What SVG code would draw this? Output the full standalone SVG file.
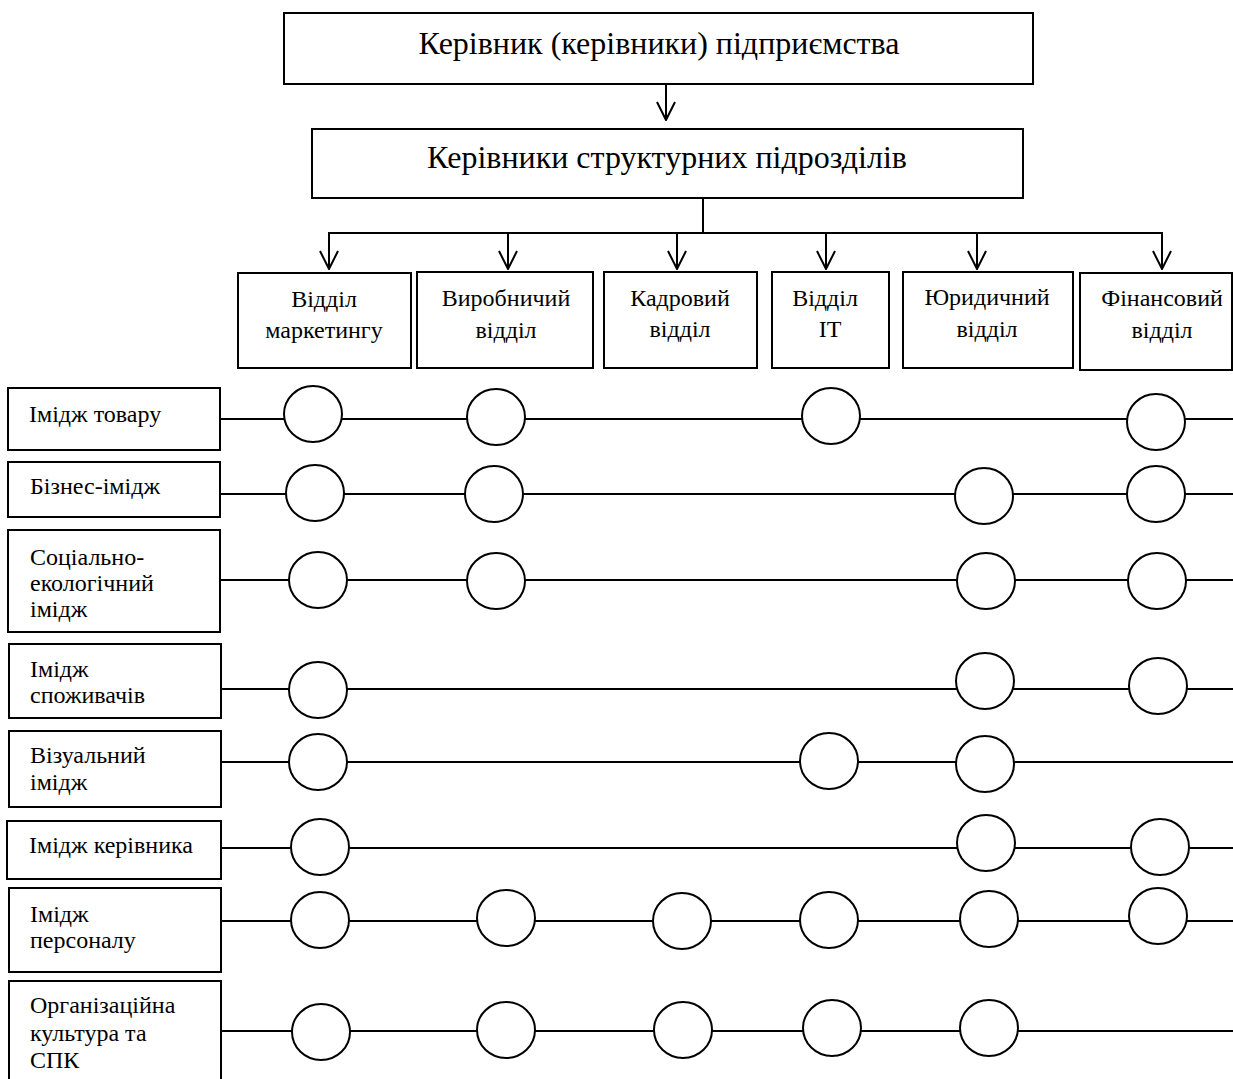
<svg xmlns="http://www.w3.org/2000/svg" width="1233" height="1079" viewBox="0 0 1233 1079">
<style>
.box{fill:#fff;stroke:#000;stroke-width:2}
.ln{fill:none;stroke:#000;stroke-width:2}
.c{fill:#fff;stroke:#000;stroke-width:2}
.t{font-family:"Liberation Serif","Times New Roman",serif;fill:#000}
.h{font-size:32px;text-anchor:middle}
.d{font-size:24px;text-anchor:middle}
.l{font-size:24px}
</style>
<defs>
<marker id="arr" viewBox="0 0 20 20" refX="19" refY="10" markerWidth="20" markerHeight="20" markerUnits="userSpaceOnUse" orient="auto">
<path d="M1,1 L19,10 L1,19" fill="none" stroke="#000" stroke-width="2"/>
</marker>
</defs>
<rect width="1233" height="1079" fill="#fff"/>

<g id="connectors">
<line class="ln" x1="666" y1="84" x2="666" y2="120" marker-end="url(#arr)"/>
<line class="ln" x1="703" y1="198" x2="703" y2="233"/>
<line class="ln" x1="328" y1="233" x2="1163" y2="233"/>
<line class="ln" x1="329" y1="233" x2="329" y2="269" marker-end="url(#arr)"/>
<line class="ln" x1="508" y1="233" x2="508" y2="269" marker-end="url(#arr)"/>
<line class="ln" x1="677" y1="233" x2="677" y2="269" marker-end="url(#arr)"/>
<line class="ln" x1="826" y1="233" x2="826" y2="269" marker-end="url(#arr)"/>
<line class="ln" x1="977" y1="233" x2="977" y2="269" marker-end="url(#arr)"/>
<line class="ln" x1="1162" y1="233" x2="1162" y2="269" marker-end="url(#arr)"/>
<line class="ln" x1="220" y1="419" x2="1233" y2="419"/>
<line class="ln" x1="220" y1="494" x2="1233" y2="494"/>
<line class="ln" x1="220" y1="580" x2="1233" y2="580"/>
<line class="ln" x1="221" y1="689" x2="1233" y2="689"/>
<line class="ln" x1="221" y1="762" x2="1233" y2="762"/>
<line class="ln" x1="221" y1="848" x2="1233" y2="848"/>
<line class="ln" x1="221" y1="921" x2="1233" y2="921"/>
<line class="ln" x1="221" y1="1031" x2="1233" y2="1031"/>
</g>

<g id="top">
<rect class="box" x="284" y="13" width="749" height="71"/>
<text class="t h" x="659" y="54">Керівник (керівники) підприємства</text>
</g>
<g id="heads">
<rect class="box" x="312" y="129" width="711" height="69"/>
<text class="t h" x="667" y="168">Керівники структурних підрозділів</text>
</g>

<g id="dept-marketing">
<rect class="box" x="238" y="273" width="173" height="95"/>
<text class="t d" x="324" y="307">Відділ</text>
<text class="t d" x="324" y="338">маркетингу</text>
</g>
<g id="dept-production">
<rect class="box" x="417" y="272" width="176" height="96"/>
<text class="t d" x="506" y="306">Виробничий</text>
<text class="t d" x="506" y="338">відділ</text>
</g>
<g id="dept-hr">
<rect class="box" x="604" y="272" width="153" height="96"/>
<text class="t d" x="680" y="306">Кадровий</text>
<text class="t d" x="680" y="337">відділ</text>
</g>
<g id="dept-it">
<rect class="box" x="772" y="272" width="117" height="96"/>
<text class="t d" x="825" y="306">Відділ</text>
<text class="t d" x="830" y="337">IT</text>
</g>
<g id="dept-legal">
<rect class="box" x="903" y="272" width="170" height="96"/>
<text class="t d" x="987" y="305">Юридичний</text>
<text class="t d" x="987" y="337">відділ</text>
</g>
<g id="dept-finance">
<rect class="box" x="1080" y="273" width="152" height="97"/>
<text class="t d" x="1162" y="306">Фінансовий</text>
<text class="t d" x="1162" y="338">відділ</text>
</g>

<g id="row1">
<rect class="box" x="8" y="388" width="212" height="62"/>
<text class="t l" x="29" y="422">Імідж товару</text>
</g>
<g id="row2">
<rect class="box" x="8" y="462" width="212" height="55"/>
<text class="t l" x="30" y="494">Бізнес-імідж</text>
</g>
<g id="row3">
<rect class="box" x="8" y="530" width="212" height="102"/>
<text class="t l" x="30" y="565">Соціально-</text>
<text class="t l" x="30" y="591">екологічний</text>
<text class="t l" x="30" y="617">імідж</text>
</g>
<g id="row4">
<rect class="box" x="9" y="644" width="212" height="74"/>
<text class="t l" x="30" y="677">Імідж</text>
<text class="t l" x="30" y="703">споживачів</text>
</g>
<g id="row5">
<rect class="box" x="9" y="731" width="212" height="76"/>
<text class="t l" x="30" y="763">Візуальний</text>
<text class="t l" x="30" y="790">імідж</text>
</g>
<g id="row6">
<rect class="box" x="7" y="821" width="214" height="58"/>
<text class="t l" x="29" y="853">Імідж керівника</text>
</g>
<g id="row7">
<rect class="box" x="9" y="888" width="212" height="84"/>
<text class="t l" x="30" y="922">Імідж</text>
<text class="t l" x="30" y="948">персоналу</text>
</g>
<g id="row8">
<rect class="box" x="9" y="981" width="212" height="110"/>
<text class="t l" x="30" y="1013">Організаційна</text>
<text class="t l" x="30" y="1041">культура та</text>
<text class="t l" x="30" y="1068">СПК</text>
</g>

<g id="markers">
<ellipse class="c" cx="313" cy="414" rx="29" ry="28"/>
<ellipse class="c" cx="496" cy="417" rx="29" ry="28"/>
<ellipse class="c" cx="831" cy="416" rx="29" ry="28"/>
<ellipse class="c" cx="1156" cy="422" rx="29" ry="28"/>

<ellipse class="c" cx="315" cy="493" rx="29" ry="28"/>
<ellipse class="c" cx="494" cy="494" rx="29" ry="28"/>
<ellipse class="c" cx="984" cy="496" rx="29" ry="28"/>
<ellipse class="c" cx="1156" cy="494" rx="29" ry="28"/>

<ellipse class="c" cx="318" cy="580" rx="29" ry="28"/>
<ellipse class="c" cx="496" cy="581" rx="29" ry="28"/>
<ellipse class="c" cx="986" cy="581" rx="29" ry="28"/>
<ellipse class="c" cx="1157" cy="581" rx="29" ry="28"/>

<ellipse class="c" cx="318" cy="690" rx="29" ry="28"/>
<ellipse class="c" cx="985" cy="681" rx="29" ry="28"/>
<ellipse class="c" cx="1158" cy="686" rx="29" ry="28"/>

<ellipse class="c" cx="318" cy="762" rx="29" ry="28"/>
<ellipse class="c" cx="829" cy="761" rx="29" ry="28"/>
<ellipse class="c" cx="985" cy="764" rx="29" ry="28"/>

<ellipse class="c" cx="320" cy="847" rx="29" ry="28"/>
<ellipse class="c" cx="986" cy="843" rx="29" ry="28"/>
<ellipse class="c" cx="1160" cy="847" rx="29" ry="28"/>

<ellipse class="c" cx="320" cy="920" rx="29" ry="28"/>
<ellipse class="c" cx="506" cy="918" rx="29" ry="28"/>
<ellipse class="c" cx="682" cy="921" rx="29" ry="28"/>
<ellipse class="c" cx="829" cy="920" rx="29" ry="28"/>
<ellipse class="c" cx="989" cy="919" rx="29" ry="28"/>
<ellipse class="c" cx="1158" cy="916" rx="29" ry="28"/>

<ellipse class="c" cx="321" cy="1032" rx="29" ry="28"/>
<ellipse class="c" cx="506" cy="1030" rx="29" ry="28"/>
<ellipse class="c" cx="683" cy="1030" rx="29" ry="28"/>
<ellipse class="c" cx="832" cy="1028" rx="29" ry="28"/>
<ellipse class="c" cx="989" cy="1028" rx="29" ry="28"/>
</g>
</svg>
